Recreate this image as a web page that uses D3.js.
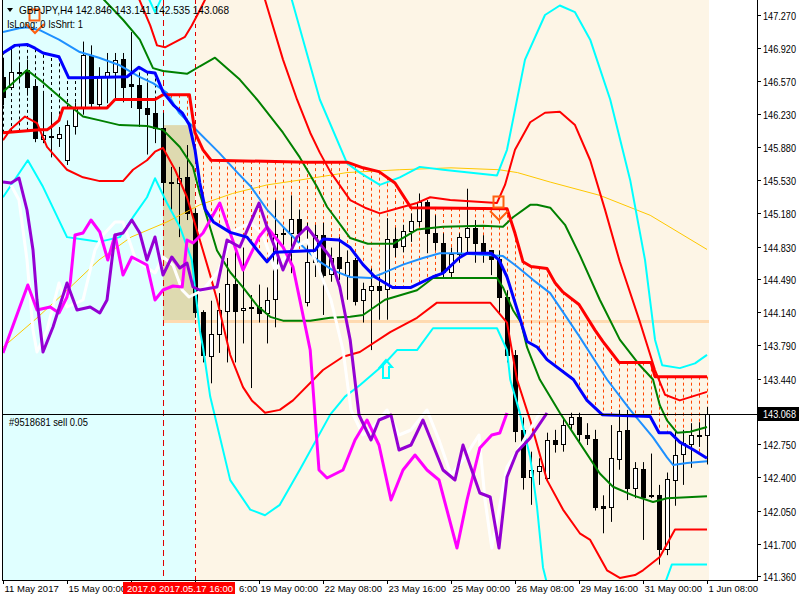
<!DOCTYPE html>
<html><head><meta charset="utf-8">
<script src="https://cdn.jsdelivr.net/npm/d3@7"></script>
<style>body{margin:0;background:#fff}svg{display:block}text{font-family:"Liberation Sans",Arial,sans-serif}</style>
</head><body><svg id="c" width="800" height="600"></svg>
<script>
// ---------- DATA ----------
const symbol = "GBPJPY,H4";
const headerOHLC = "142.846 143.141 142.535 143.068";
const statusText = "IsLong: 0 IsShrt: 1";
const orderText = "#9518681 sell 0.05";
const bidPrice = 143.068;

// OHLC per H4 bar (index 0 = 11 May 16:00 ... 88 = 1 Jun 08:00)
const open  = [146.62,146.51,146.67,146.69,146.52,145.97,146.00,145.98,145.74,146.10,146.30,146.85,146.34,146.62,146.67,146.81,146.54,146.53,146.29,146.24,146.08,145.51,145.50,145.56,145.18,144.14,143.68,143.91,144.16,144.44,144.16,144.19,144.19,144.13,144.27,144.97,144.97,145.12,144.25,144.67,144.95,144.54,144.72,144.53,144.69,144.26,144.38,144.42,144.38,144.91,144.83,144.99,145.10,145.30,144.97,144.87,144.56,144.75,144.94,145.03,144.87,144.79,144.70,144.30,143.69,142.90,142.41,142.47,142.39,142.79,142.75,142.96,143.03,142.85,142.80,142.10,142.08,142.59,142.90,142.29,142.49,142.21,142.21,141.64,142.38,142.64,142.75,142.85,142.846];
const high  = [146.80,146.92,146.77,146.80,146.59,146.45,146.24,146.09,146.16,146.35,146.99,146.95,146.72,146.87,146.87,146.87,147.09,146.66,146.56,146.38,146.24,145.67,145.67,145.90,145.23,144.16,144.26,144.34,144.71,144.82,144.82,144.32,144.43,144.40,145.32,145.04,145.37,145.22,145.08,145.06,145.08,144.82,144.93,144.79,144.71,144.45,144.60,144.51,145.13,145.03,145.06,145.18,145.39,145.32,145.16,144.97,144.82,144.97,145.44,145.11,144.95,144.79,144.79,144.37,143.74,143.03,142.67,142.60,142.87,142.90,143.03,143.08,143.08,142.97,142.90,142.21,142.95,143.11,143.11,142.56,142.56,142.65,142.32,142.45,142.90,142.90,142.97,142.98,143.141];
const low   = [146.32,146.48,146.56,146.42,145.93,145.92,145.77,145.88,145.69,146.01,146.22,146.30,146.30,146.34,146.37,146.35,146.29,146.09,145.80,145.92,145.32,145.22,144.93,145.11,144.08,143.61,143.39,143.71,143.61,143.61,143.81,143.34,144.03,143.81,143.98,144.85,144.55,144.83,144.20,144.51,144.11,144.46,144.48,144.27,144.21,144.03,143.74,144.06,144.06,144.72,144.77,144.88,145.04,144.76,144.79,144.51,144.51,144.66,144.76,144.66,144.66,144.53,144.11,143.61,142.77,142.27,142.11,142.32,142.35,142.66,142.67,142.90,142.76,142.74,142.05,141.81,141.93,142.48,142.16,142.18,141.74,142.18,141.48,141.58,142.10,142.32,142.50,142.72,142.535];
const close = [146.41,146.67,146.66,146.51,145.97,146.01,145.99,146.02,146.11,146.30,146.85,146.34,146.62,146.67,146.80,146.52,146.52,146.29,146.23,146.08,145.51,145.50,145.55,145.18,144.14,143.69,143.91,144.16,144.44,144.16,144.18,144.18,144.13,144.27,144.96,144.97,145.12,144.97,144.67,144.95,144.53,144.71,144.60,144.67,144.26,144.38,144.42,144.38,144.91,144.83,144.99,145.10,145.30,144.97,144.87,144.56,144.75,144.93,145.03,144.87,144.78,144.70,144.30,143.69,142.89,142.41,142.48,142.52,142.79,142.75,142.95,143.03,142.85,142.82,142.08,142.08,142.60,142.89,142.29,142.50,142.19,142.20,141.64,142.38,142.64,142.76,142.85,142.85,143.068];

const priceTicks = [147.270,146.920,146.570,146.230,145.880,145.530,145.180,144.830,144.490,144.140,143.790,143.440,143.090,142.750,142.400,142.050,141.700,141.360];
// visible time-axis labels: [bar index, text]; the 16 May and 17 May labels are covered by the red cursor labels
const timeTicks = [[0,"11 May 2017"],[8,"15 May 00:00"],[16,""],[24,"6:00"],[32,"19 May 00:00"],[40,"22 May 08:00"],[48,"23 May 16:00"],[56,"25 May 00:00"],[64,"26 May 08:00"],[72,"29 May 16:00"],[80,"31 May 00:00"],[88,"1 Jun 08:00"]];
const crossLabels = [[20,"2017.0"],[24,"2017.05.17 16:00"]];

// indicator lines: [bar index, price]
const levelLine = [[0,146.03],[4.6,146.06],[5.5,146.06],[6,146.09],[7,146.16],[7.5,146.29],[13,146.29],[14,146.38],[19,146.38],[20,146.43],[23.3,146.43],[24,146.03],[25,145.85],[26,145.74],[38,145.72],[43,145.72],[45,145.66],[47,145.62],[49,145.50],[50,145.37],[51,145.24],[63,145.23],[64,144.97],[65,144.67],[66,144.62],[68,144.60],[69,144.45],[70,144.35],[72,144.22],[74,143.95],[75,143.83],[76,143.72],[77,143.61],[81,143.61],[81.5,143.46],[88,143.46]];
const fastMA = [[0,146.87],[1.5,146.95],[3,146.96],[4,146.92],[5,146.87],[7,146.83],[8.2,146.61],[10,146.61],[15.5,146.62],[17,146.72],[18,146.67],[19,146.66],[20,146.46],[21.3,146.32],[22.4,146.24],[23.3,146.11],[24,145.85],[24.6,145.50],[25.3,145.22],[26.3,145.09],[28.4,144.98],[30.5,144.93],[32,144.77],[33,144.67],[34,144.77],[39,144.79],[40,144.91],[42,144.90],[43.4,144.82],[45,144.64],[46.5,144.51],[48.7,144.40],[51,144.40],[53.7,144.51],[55,144.55],[57,144.71],[58,144.76],[61,144.76],[62,144.69],[63,144.51],[64.3,144.16],[65.5,143.83],[66.8,143.77],[68,143.64],[71.3,143.43],[73,143.21],[74.9,143.06],[80.9,143.04],[82,142.87],[83.4,142.87],[84.6,142.77],[86.3,142.69],[88,142.60]];
const bbMid = [[0,147.09],[2,147.13],[3,147.14],[4.6,147.11],[7,147.01],[9.6,146.88],[12,146.82],[14.6,146.74],[17,146.62],[18.8,146.55],[20.5,146.45],[22,146.24],[23.8,146.09],[27,145.82],[29.3,145.61],[31,145.46],[33,145.22],[35,145.04],[37,144.87],[39.25,144.69],[41.25,144.58],[43.4,144.51],[46,144.50],[47.5,144.55],[50,144.64],[52.5,144.71],[54.6,144.76],[56.8,144.76],[62.5,144.73],[64.25,144.62],[66.25,144.48],[68.4,144.34],[72,143.89],[75.5,143.43],[78.4,143.11],[81.25,142.82],[83,142.61],[83.75,142.53],[85.5,142.55],[88,142.57]];
const slowMA = [[0,143.77],[4,144.06],[8,144.37],[12,144.69],[16,144.93],[20.5,145.09],[24.6,145.27],[28.7,145.39],[33,145.48],[37,145.53],[43,145.61],[49.6,145.64],[56,145.66],[62,145.64],[64.3,145.61],[68.4,145.51],[74.6,145.37],[80.9,145.16],[88,144.80]];
const bbUp1 = [[11.5,147.53],[15,147.22],[17.1,147.01],[18.75,146.71],[20,146.68],[23,146.65],[24.6,146.73],[26.5,146.82],[29.6,146.59],[31.75,146.38],[35,146.03],[37.1,145.77],[39.25,145.46],[40.5,145.25],[41.75,145.11],[43.4,144.92],[45.6,144.86],[48.75,144.86],[51.75,145.01],[55,145.04],[60,145.05],[62.5,145.04],[63.75,145.14],[65.9,145.27],[66.75,145.27],[68.4,145.24],[70.25,145.06],[72.1,144.74],[74.6,144.27],[77.1,143.85],[79.6,143.58],[81.25,143.43],[82.1,143.16],[83,143.00],[84.25,142.87],[85.9,142.88],[88,142.93]];
const bbLo1 = [[0,146.46],[3,146.69],[5,146.56],[8,146.34],[10,146.20],[12.1,146.16],[14.6,146.11],[18,146.10],[20,146.06],[22.1,145.88],[23.75,145.67],[24.6,145.39],[26.75,144.79],[28.4,144.56],[30,144.40],[31.75,144.21],[33.4,144.09],[35,144.05],[38.4,144.05],[40.9,144.08],[43.4,144.09],[45,144.11],[47.75,144.27],[51.75,144.37],[53.75,144.50],[61.75,144.50],[62.5,144.40],[63.75,144.16],[64.75,144.03],[65.5,143.77],[67.1,143.43],[69.6,143.08],[72.1,142.76],[74.6,142.44],[76.25,142.30],[78.75,142.21],[81.25,142.14],[83,142.18],[88,142.20]];
const bbUp2 = [[16,147.64],[18.4,147.16],[19.25,146.95],[20.25,146.93],[22.75,147.04],[23.6,147.16],[24.6,147.32],[25.25,147.43],[27,147.85],[31,147.85],[32.75,147.43],[35,146.80],[36.75,146.38],[38.4,146.03],[39.6,145.82],[40.9,145.62],[43.4,145.32],[45.25,145.24],[47.1,145.18],[49.6,145.24],[51.75,145.29],[53.4,145.35],[55.9,145.32],[61.75,145.29],[62.75,145.48],[64,145.85],[65.9,146.14],[67.75,146.24],[69.6,146.25],[71.5,146.11],[73.4,145.74],[75.25,145.22],[77.1,144.67],[79.6,144.04],[81.5,143.53],[82.75,143.27],[84.6,143.21],[88,143.30]];
const bbLo2 = [[0,145.95],[0.9,146.06],[2.75,146.20],[4.25,146.13],[5.5,145.88],[8,145.64],[10,145.56],[12.1,145.52],[15,145.52],[16.25,145.64],[18,145.74],[19,145.83],[20,145.87],[21.5,145.64],[23,145.35],[24.6,144.90],[25.9,144.53],[26.75,144.27],[28.4,143.69],[30,143.35],[31.1,143.21],[32.75,143.08],[34.6,143.11],[36.25,143.21],[40,143.53],[42.5,143.67],[44.6,143.72],[48.4,143.93],[51.75,144.08],[54.25,144.24],[60.9,144.24],[63,144.03],[64.25,143.43],[65.9,143.00],[68,142.37],[70,142.06],[72.1,141.81],[73.4,141.74],[75.5,141.42],[77.1,141.34],[79,141.37],[80,141.42],[82.1,141.56],[84,141.85],[88,141.85]];
const bbUp3 = [[16,147.85],[19,147.30],[22,147.85],[26,148.06],[31,148.06],[34,147.85],[36.1,147.43],[39.6,146.38],[43,145.71],[44.6,145.61],[47.1,145.48],[49.6,145.56],[52.1,145.67],[55,145.64],[61.75,145.58],[63,145.85],[65.25,146.80],[67.75,147.27],[69.6,147.37],[71.5,147.30],[73.4,147.01],[75.9,146.38],[78.4,145.53],[80.25,144.69],[81.5,143.85],[82.4,143.58],[84.6,143.55],[86.5,143.60],[88,143.69]];
const bbLo3 = [[0,145.35],[3.1,145.74],[5,145.46],[8,144.93],[10.5,144.90],[12,144.88],[14.6,144.93],[16.25,145.14],[18,145.35],[19,145.55],[20.5,145.29],[22.1,145.04],[23.6,144.69],[24.6,143.95],[25,143.77],[25.9,143.25],[28.4,142.37],[30.9,142.06],[32.75,142.00],[34.6,142.11],[37.1,142.48],[40.9,143.06],[42.75,143.25],[44.6,143.37],[47.5,143.58],[49.25,143.74],[51.75,143.74],[53.75,143.97],[61.75,143.97],[63,143.74],[63.4,143.43],[64.6,143.08],[65.9,142.61],[66.75,142.09],[67.5,141.45],[68.5,141.11],[76,140.90],[82,141.11],[83.6,141.48],[88,141.48]];

// oscillators (0..100 scale drawn over the price area)
const oscMagenta = [[0,49.4],[3.1,63],[4.25,58],[5.9,58.6],[7,57.4],[8,60.6],[8.4,63.4],[9,73],[10,73.4],[11,76],[12.1,73.6],[13.1,68],[14,73],[15,65],[16.1,68.6],[18,67],[19,60],[20,62],[21.25,62.8],[22.4,62.6],[23,72],[23.75,71.4],[25,73.4],[27.1,79.4],[28.4,73.4],[30,66],[32,72.6],[33,74.6],[35,70.6],[36.25,66.6],[38.4,50],[39.5,26],[40.5,24.4],[42.5,26],[44,32],[45.5,36],[47,31],[48.5,20],[50,26],[51.5,29],[53,26],[54.5,24],[56.75,10.4],[58,20],[59.6,30.4],[61.1,33],[62.1,33.4],[63,37.4]];
const oscPurple = [[0,83.6],[1,83.4],[2,84.4],[3,78],[3.75,70],[4.25,60],[5,49.6],[6.25,54.6],[8,63.4],[9.25,58],[10.9,58.6],[12.1,57.4],[13,60],[14,73],[15,73.4],[16.1,76],[17.1,73.4],[18,68],[19,72.6],[20,65],[21.1,68.6],[22.1,66.4],[23,67.4],[23.75,62.6],[24.6,62],[26.75,62.6],[28,72],[29.6,70.6],[32,79.4],[33,74.6],[34.25,69.4],[35,66],[36.75,72.6],[38,74.6],[39.25,72],[40.9,68.6],[42.1,62.6],[43.4,52],[44.5,37],[46,32],[47,36],[48.5,37],[49.5,30],[51,31],[52.5,36],[54,30],[55,26],[56.5,24],[57.5,31],[59.6,21.4],[60.9,20.6],[62,10.4],[63,24.6],[64.25,29.6],[65.9,32.4],[68,37.4]];
const oscWhite = [[1,83],[2,80],[3,68],[3.75,54],[4.25,49.6],[5.5,54],[7,63.4],[8,58.6],[10,60],[11.5,70],[12.5,73],[14,75.6],[15,75.6],[16.6,68],[19,65.4],[20,68.6],[21.25,67],[22.4,62],[23.25,60.6],[25,62],[27,66],[29,74],[31,75.4],[32.5,73],[34,66],[36,70],[38,72],[39.5,66],[41,60],[42.5,50],[43.5,38],[45,33],[46.5,35],[48,38],[49.5,33],[51,34],[53,38],[54.5,32],[56,25],[57.5,28],[59.5,33],[60.25,20],[61.1,10.4],[63,26.6],[64.6,30.6],[67.1,37.4]];

const sellMarks = [[4,147.33],[62,145.36]];
const buyMarks = [[47.75,143.64]];
const boxStart = 20, boxEnd = 24, boxTop = 146.11, boxBottom = 144.04;
const vLines = [20,24];

// ---------- SCALES ----------
const W=800,H=600, L=3, R=757, T=0, B=580;
const x = d3.scaleLinear().domain([0,88]).range([3,707]);
const y = d3.scaleLinear().domain([141.318,147.428]).range([580,0]);
const yo = d3.scaleLinear().domain([0,100]).range([600,100]);

const svg = d3.select("#c");
svg.append("rect").attr("width",W).attr("height",H).attr("fill","#fff");
svg.append("defs").append("clipPath").attr("id","clip").append("rect").attr("x",L).attr("y",T).attr("width",R-L).attr("height",B-T);
const g = svg.append("g").attr("clip-path","url(#clip)");

// backgrounds
g.append("rect").attr("x",L).attr("y",T).attr("width",x(24)-L).attr("height",B).attr("fill","#E0FFFF");
g.append("rect").attr("x",x(24)).attr("y",T).attr("width",x(88)+2-x(24)).attr("height",B).attr("fill","#FDF5E6");

// rectangle object
g.append("rect").attr("x",x(boxStart)).attr("y",y(boxTop)).attr("width",x(boxEnd)-x(boxStart)).attr("height",y(boxBottom)-y(boxTop)).attr("fill","#DEDAB0");
g.append("line").attr("x1",x(boxStart)).attr("x2",x(88)+2).attr("y1",y(boxBottom)).attr("y2",y(boxBottom)).attr("stroke","#FFDAB0").attr("stroke-width",3);

// histogram between level line and fast MA
function valAt(arr,i){for(let k=0;k<arr.length-1;k++){const a=arr[k],b=arr[k+1];if(i>=a[0]&&i<=b[0]){return a[1]+(b[1]-a[1])*(i-a[0])/((b[0]-a[0])||1);}}return arr[arr.length-1][1];}
for(let i=0;i<=88;i++){
  const r=valAt(levelLine,i), bl=valAt(fastMA,i);
  g.append("line").attr("x1",Math.round(x(i))+0.5).attr("x2",Math.round(x(i))+0.5).attr("y1",y(r)).attr("y2",y(bl))
   .attr("stroke", r>bl? "#FF4500":"#000").attr("stroke-width",1).attr("stroke-dasharray","3,3");
}

// vertical lines
vLines.forEach((v,k)=>{
  g.append("line").attr("x1",Math.round(x(v))+0.5).attr("x2",Math.round(x(v))+0.5).attr("y1",0).attr("y2",B)
   .attr("stroke","#E00000").attr("stroke-width",1).attr("stroke-dasharray",k==0?"6,4":"4,4");
});

// candles
const cg = g.append("g");
for(let i=0;i<open.length;i++){
  const cx=Math.round(x(i))+0.5;
  cg.append("line").attr("x1",cx).attr("x2",cx).attr("y1",y(high[i])).attr("y2",y(low[i])).attr("stroke","#000");
  const top=Math.min(y(open[i]),y(close[i])), bot=Math.max(y(open[i]),y(close[i]));
  const bull = close[i]>=open[i];
  cg.append("rect").attr("x",cx-2).attr("y",Math.round(top)+0.5).attr("width",4).attr("height",Math.max(1,Math.round(bot-top)))
   .attr("fill",bull?"#fff":"#000").attr("stroke","#000").attr("stroke-width",1);
}

const line = d3.line().x(d=>x(d[0])).y(d=>y(d[1]));
const lineO = d3.line().x(d=>x(d[0])).y(d=>yo(d[1]));
function draw(data,color,w,gen){g.append("path").attr("d",(gen||line)(data)).attr("fill","none").attr("stroke",color).attr("stroke-width",w).attr("stroke-linejoin","round");}

draw(slowMA,"#FFC800",1);
draw(bbUp3,"#00FFFF",2); draw(bbLo3,"#00FFFF",2);
draw(bbUp2,"#FF0000",2); draw(bbLo2,"#FF0000",2);
draw(bbUp1,"#008000",2); draw(bbLo1,"#008000",2);
draw(bbMid,"#1E90FF",2);
draw(oscWhite,"#FFFFFF",3,lineO);
draw(oscMagenta,"#FF00FF",3,lineO);
draw(oscPurple,"#9400D3",3,lineO);
draw(levelLine,"#FF0000",3);
draw(fastMA,"#0000FF",3);

// markers
sellMarks.forEach(m=>{
  const cx=Math.round(x(m[0])), ty=Math.round(y(m[1]));
  g.append("rect").attr("x",cx-5.5).attr("y",ty+0.5).attr("width",10).attr("height",11).attr("fill","none").attr("stroke","#FF6010").attr("stroke-width",2);
  g.append("path").attr("d",`M${cx-9},${ty+15}L${cx},${ty+24}L${cx+9},${ty+15}`).attr("fill","none").attr("stroke","#FF6010").attr("stroke-width",2);
});
buyMarks.forEach(m=>{
  const cx=Math.round(x(m[0]))+1, ty=Math.round(y(m[1]));
  g.append("path").attr("d",`M${cx},${ty}L${cx-6},${ty+7}L${cx-3},${ty+7}L${cx-3},${ty+18}L${cx+3},${ty+18}L${cx+3},${ty+7}L${cx+6},${ty+7}Z`).attr("fill","none").attr("stroke","#00FFFF").attr("stroke-width",2);
});

// bid line
svg.append("line").attr("x1",L).attr("x2",R).attr("y1",Math.round(y(bidPrice))+0.5).attr("y2",Math.round(y(bidPrice))+0.5).attr("stroke","#000");

// frame
svg.append("line").attr("x1",L-0.5).attr("x2",L-0.5).attr("y1",0).attr("y2",B).attr("stroke","#000");
svg.append("line").attr("x1",R+0.5).attr("x2",R+0.5).attr("y1",0).attr("y2",B+1).attr("stroke","#000");
svg.append("line").attr("x1",L-1).attr("x2",R+1).attr("y1",B+0.5).attr("y2",B+0.5).attr("stroke","#000");

// texts
svg.append("path").attr("d","M7,8L13,8L10,12Z").attr("fill","#000");
svg.append("text").attr("x",19).attr("y",14).attr("font-size",11).attr("textLength",210).attr("lengthAdjust","spacingAndGlyphs").attr("fill","#000").text(symbol+"  "+headerOHLC);
svg.append("text").attr("x",7).attr("y",28).attr("font-size",11).attr("textLength",76).attr("lengthAdjust","spacingAndGlyphs").attr("fill","#000").text(statusText);
svg.append("text").attr("x",9).attr("y",426).attr("font-size",11).attr("textLength",79).attr("lengthAdjust","spacingAndGlyphs").attr("fill","#000").text(orderText);

// right axis
const ax = svg.append("g");
priceTicks.forEach(p=>{
  const yy=Math.round(y(p))+0.5;
  ax.append("line").attr("x1",R).attr("x2",R+4).attr("y1",yy).attr("y2",yy).attr("stroke","#000");
  if(Math.abs(p-bidPrice)>0.1) ax.append("text").attr("x",763).attr("y",yy+4).attr("font-size",10.5).attr("textLength",33).attr("lengthAdjust","spacingAndGlyphs").attr("fill","#000").text(d3.format(".3f")(p));
});
const by=Math.round(y(bidPrice));
ax.append("rect").attr("x",R+1).attr("y",by-7).attr("width",41).attr("height",14).attr("fill","#000");
ax.append("text").attr("x",763).attr("y",by+4).attr("font-size",10.5).attr("textLength",33).attr("lengthAdjust","spacingAndGlyphs").attr("fill","#fff").text(d3.format(".3f")(bidPrice));

// bottom axis
timeTicks.forEach(t=>{
  const xx=Math.round(x(t[0]))+0.5;
  ax.append("line").attr("x1",xx).attr("x2",xx).attr("y1",B).attr("y2",B+4).attr("stroke","#000");
  if(!t[1]) return;
  const tx = t[1]==="6:00" ? 239 : xx+1;
  ax.append("text").attr("x",tx).attr("y",592).attr("font-size",9.5).attr("fill","#000").text(t[1]);
});
crossLabels.forEach((c,k)=>{
  const xx=Math.round(x(c[0]));
  ax.append("rect").attr("x",k==0?xx-40:xx-39).attr("y",582).attr("width",k==0?34:79).attr("height",12).attr("fill","#FF0000");
  ax.append("text").attr("x",k==0?127:159).attr("y",592).attr("font-size",9.5).attr("fill","#fff").text(c[1]);
});
</script></body></html>
